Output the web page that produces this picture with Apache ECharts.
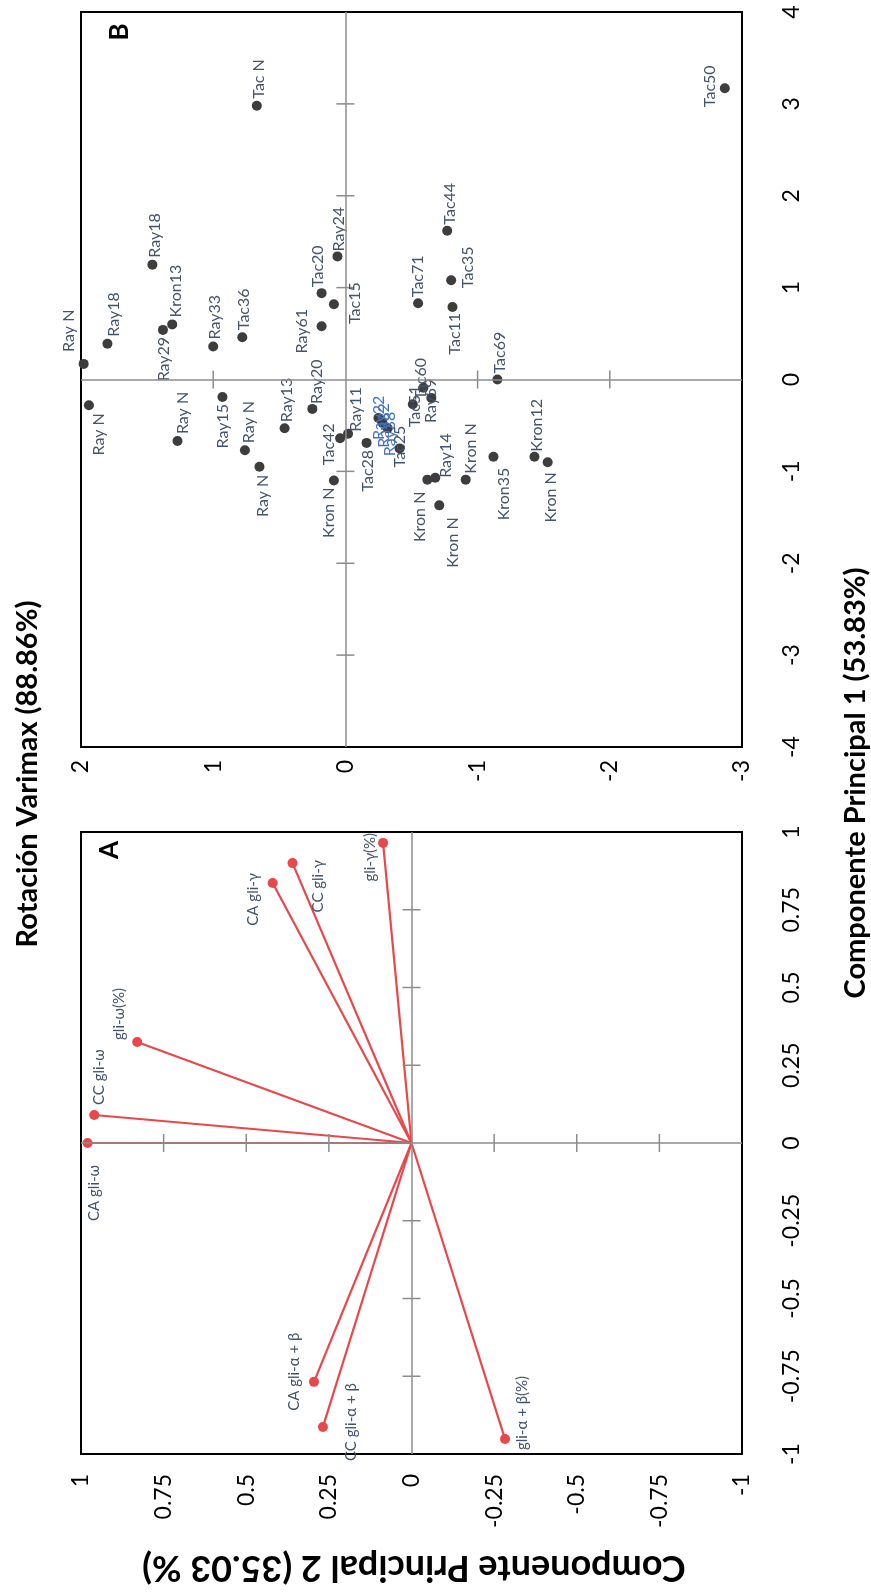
<!DOCTYPE html>
<html>
<head>
<meta charset="utf-8">
<script src="https://cdn.jsdelivr.net/npm/echarts@6.0.0/dist/echarts.min.js"></script>
<style>
  html, body { margin: 0; padding: 0; background: #fff; }
  #chart { width: 871px; height: 1593px; }
</style>
</head>
<body>
<div id="chart"></div>
<script>
// Panel A: loadings (Componente Principal 1 / Componente Principal 2)
const loadNames = ['CA gli-ω', 'CC gli-ω', 'gli-ω(%)', 'CA gli-γ', 'CC gli-γ', 'gli-γ(%)',
  'CA gli-α + β', 'CC gli-α + β', 'gli-α + β(%)']
const loadPC1 = [0.00, 0.09, 0.325, 0.836, 0.90, 0.965, -0.768, -0.913, -0.952]
const loadPC2 = [0.98, 0.96, 0.83, 0.42, 0.36, 0.086, 0.295, 0.268, -0.283]

// Panel B: scores
const scoreNames = ['Ray N', 'Ray N', 'Ray18', 'Ray18', 'Ray29', 'Kron13', 'Ray N', 'Ray33', 'Ray15',
  'Tac36', 'Ray N', 'Ray N', 'Tac N', 'Ray13', 'Ray20', 'Ray61', 'Tac15', 'Tac20', 'Ray24', 'Tac42',
  'Ray11', 'Kron N', 'Tac28', 'Ray22', 'Ray32', 'Ray38', 'Tac25', 'Tac51', 'Tac60', 'Ray59', 'Tac71',
  'Tac44', 'Tac35', 'Tac11', 'Tac69', 'Ray14', 'Kron N', 'Kron N', 'Kron N', 'Kron35', 'Kron12',
  'Kron N', 'Tac50']
const scorePC1 = [0.17, -0.28, 0.39, 1.25, 0.54, 0.60, -0.67, 0.36, -0.19,
  0.46, -0.77, -0.95, 2.98, -0.53, -0.32, 0.58, 0.82, 0.94, 1.34, -0.64,
  -0.59, -1.10, -0.69, -0.42, -0.47, -0.53, -0.75, -0.27, -0.09, -0.20, 0.83,
  1.62, 1.08, 0.79, 0.00, -1.07, -1.09, -1.37, -1.09, -0.84, -0.84,
  -0.90, 3.17]
const scorePC2 = [1.98, 1.94, 1.80, 1.46, 1.38, 1.31, 1.27, 1.00, 0.93,
  0.78, 0.76, 0.65, 0.67, 0.46, 0.25, 0.18, 0.087, 0.18, 0.06, 0.04,
  -0.02, 0.087, -0.16, -0.25, -0.28, -0.32, -0.41, -0.51, -0.59, -0.65, -0.55,
  -0.77, -0.80, -0.81, -1.15, -0.68, -0.62, -0.71, -0.91, -1.12, -1.43,
  -1.53, -2.87]

// tick marks drawn on the zero lines
const ticksA = [-0.75, -0.5, -0.25, 0.25, 0.5, 0.75]
const ticksBx = [-2, -1, 1]
const ticksBy = [-3, -2, -1, 1, 2, 3]

// label placement (pixel offset from the dot, and which way the rotated text runs)
const loadLabelPos = [[7, 22, 'down'], [5, -10, 'up'], [-18, -2, 'up'], [-20, -10, 'down'], [26, -3, 'down'],
  [-13, -10, 'down'], [-20, 29, 'up'], [28, 34, 'up'], [17, 11, 'up']]
const scoreLabelPos = [[-15, -12, 'up'], [10, 8, 'down'], [6, -7, 'up'], [2, -7, 'up'], [1, 7, 'down'],
  [4, -7, 'up'], [5, -7, 'up'], [2, -7, 'up'], [0, 7, 'down'], [2, -7, 'up'], [4, -7, 'up'], [3, 8, 'down'],
  [2, -7, 'up'], [2, -6, 'up'], [4, -5, 'up'], [-20, 5, 'mid'], [21, -1, 'mid'], [-4, -6, 'up'], [1, -5, 'up'],
  [-11, 6, 'mid'], [8, -2, 'up'], [-5, 7, 'down'], [1, 7, 'down'], [0, 22, 'up'], [1, 25, 'up'], [2, 28, 'up'],
  [0, 19, 'up'], [2, 23, 'up'], [-3, 12, 'up'], [0, 25, 'up'], [0, -6, 'up'], [3, -6, 'up'], [17, -13, 'mid'],
  [2, 6, 'down'], [2, -6, 'up'], [11, 0, 'up'], [-8, 12, 'down'], [14, 12, 'down'], [5, -6, 'up'],
  [10, 11, 'down'], [2, -5, 'up'], [3, 10, 'down'], [-15, -2, 'mid']]
const blueScores = [23, 24, 25]

const FONT = 'Lato'
const RED = '#e8474b'
const LABEL = '#44546a'
const ZERO = '#8c8c8c'
const DOT = 10

function pointLabel(p, color, size) {
  return {
    show: true,
    position: [DOT / 2 + p[0], DOT / 2 + p[1]],
    rotate: 90,
    align: p[2] === 'up' ? 'left' : (p[2] === 'down' ? 'right' : 'center'),
    verticalAlign: 'middle',
    color: color,
    fontSize: size,
    fontFamily: FONT
  }
}

function zeroLines() {
  return {
    silent: true,
    symbol: ['none', 'none'],
    label: { show: false },
    lineStyle: { color: ZERO, width: 1.5, type: 'solid' },
    data: [{ xAxis: 0 }, { yAxis: 0 }]
  }
}

function tickSeries(idx, data, size) {
  return {
    type: 'scatter',
    xAxisIndex: idx,
    yAxisIndex: idx,
    symbol: 'rect',
    symbolSize: size,
    silent: true,
    itemStyle: { color: ZERO, opacity: 1 },
    data: data
  }
}

const axisFont = { fontSize: 23, color: '#000', fontFamily: FONT, rotate: 90, showMinLabel: true, showMaxLabel: true }
const hidden = { axisLine: { show: false }, axisTick: { show: false }, splitLine: { show: false } }

const chart = echarts.init(document.getElementById('chart'))
chart.setOption({
  animation: false,
  backgroundColor: '#fff',
  grid: [
    { left: 81, top: 12, width: 661, height: 735, show: true, borderColor: '#000', borderWidth: 2, outerBoundsMode: 'none' },
    { left: 81, top: 832, width: 661, height: 622, show: true, borderColor: '#000', borderWidth: 2, outerBoundsMode: 'none' }
  ],
  xAxis: [
    Object.assign({ gridIndex: 0, type: 'value', min: -3, max: 2, interval: 1, inverse: true, position: 'bottom',
      axisLabel: Object.assign({ margin: 13 }, axisFont) }, hidden),
    Object.assign({ gridIndex: 1, type: 'value', min: -1, max: 1, interval: 0.25, inverse: true, position: 'bottom',
      axisLabel: Object.assign({ margin: 20 }, axisFont) }, hidden)
  ],
  yAxis: [
    Object.assign({ gridIndex: 0, type: 'value', min: -4, max: 4, interval: 1, position: 'right',
      axisLabel: Object.assign({ margin: 38 }, axisFont) }, hidden),
    Object.assign({ gridIndex: 1, type: 'value', min: -1, max: 1, interval: 0.25, position: 'right',
      axisLabel: Object.assign({ margin: 38 }, axisFont) }, hidden)
  ],
  graphic: [
    { type: 'text', x: 28, y: 774, rotation: Math.PI / 2,
      style: { text: 'Rotación Varimax (88.86%)', fontSize: 29, fontWeight: 'bold', fontFamily: FONT, fill: '#000',
        align: 'center', verticalAlign: 'middle', textAlign: 'center', textVerticalAlign: 'middle' } },
    { type: 'text', x: 856, y: 783, rotation: Math.PI / 2,
      style: { text: 'Componente Principal 1 (53.83%)', fontSize: 29, fontWeight: 'bold', fontFamily: FONT, fill: '#000',
        align: 'center', verticalAlign: 'middle', textAlign: 'center', textVerticalAlign: 'middle' } },
    { type: 'text', x: 414, y: 1568, rotation: Math.PI,
      style: { text: 'Componente Principal 2 (35.03 %)', fontSize: 36, fontWeight: 'bold', fontFamily: FONT, fill: '#000',
        align: 'center', verticalAlign: 'middle', textAlign: 'center', textVerticalAlign: 'middle' } },
    { type: 'text', x: 110, y: 850, rotation: Math.PI / 2,
      style: { text: 'A', fontSize: 26, fontWeight: 'bold', fontFamily: FONT, fill: '#000',
        align: 'center', verticalAlign: 'middle', textAlign: 'center', textVerticalAlign: 'middle' } },
    { type: 'text', x: 120, y: 32, rotation: Math.PI / 2,
      style: { text: 'B', fontSize: 26, fontWeight: 'bold', fontFamily: FONT, fill: '#000',
        align: 'center', verticalAlign: 'middle', textAlign: 'center', textVerticalAlign: 'middle' } }
  ],
  series: [
    // panel B
    tickSeries(0, ticksBx.map(v => [v, 0]), [1.5, 18]),
    tickSeries(0, ticksBy.map(v => [0, v]), [18, 1.5]),
    {
      type: 'scatter',
      xAxisIndex: 0,
      yAxisIndex: 0,
      symbol: 'circle',
      symbolSize: DOT,
      itemStyle: { color: '#3d3d3d', opacity: 1 },
      markLine: zeroLines(),
      data: scoreNames.map((n, i) => ({
        name: n,
        value: [scorePC2[i], scorePC1[i]],
        label: Object.assign(pointLabel(scoreLabelPos[i], blueScores.includes(i) ? '#4472c4' : LABEL, 16),
          { formatter: n })
      }))
    },
    // panel A
    tickSeries(1, ticksA.map(v => [v, 0]), [1.5, 18]),
    tickSeries(1, ticksA.map(v => [0, v]), [18, 1.5]),
    {
      type: 'lines',
      coordinateSystem: 'cartesian2d',
      xAxisIndex: 1,
      yAxisIndex: 1,
      silent: true,
      lineStyle: { color: RED, width: 2.2, opacity: 1 },
      markLine: zeroLines(),
      data: loadNames.map((n, i) => ({ coords: [[0, 0], [loadPC2[i], loadPC1[i]]] }))
    },
    {
      type: 'scatter',
      xAxisIndex: 1,
      yAxisIndex: 1,
      symbol: 'circle',
      symbolSize: DOT,
      z: 3,
      itemStyle: { color: RED, opacity: 1 },
      data: loadNames.map((n, i) => ({
        name: n,
        value: [loadPC2[i], loadPC1[i]],
        label: Object.assign(pointLabel(loadLabelPos[i], LABEL, 15), { formatter: n })
      }))
    }
  ]
})
</script>
</body>
</html>
